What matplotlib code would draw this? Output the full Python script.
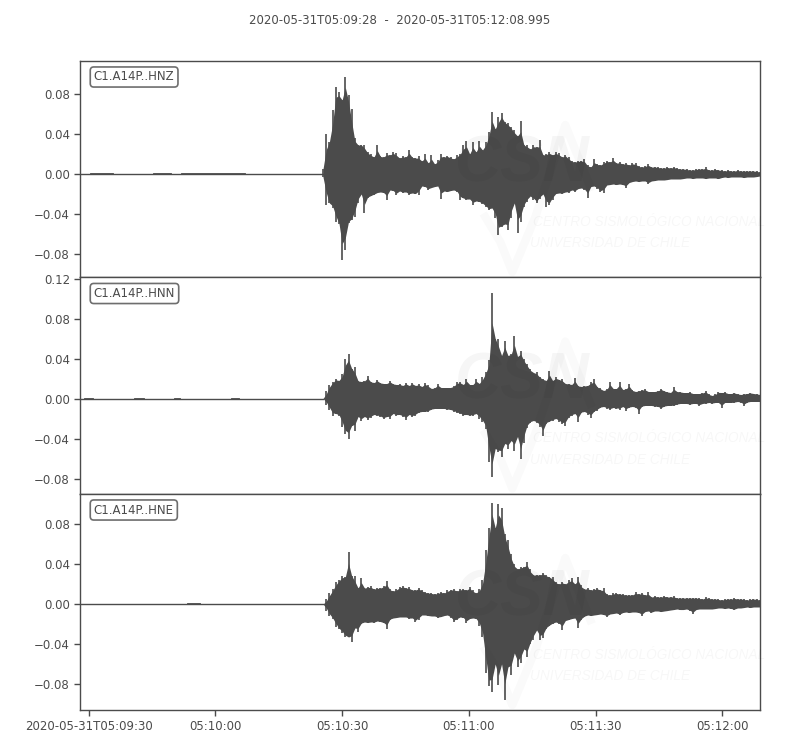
import numpy as np
import matplotlib
matplotlib.use('Agg')
import matplotlib.pyplot as plt

# peak amplitudes, in 0.001 units, one pair every STEP seconds from ONSET
ONSET = 57.46
STEP = 0.755
END = 160.995

z_up = [5, 40, 32, 64, 87, 82, 74, 97, 79, 65,
        36, 29, 29, 29, 22, 20, 17, 29, 18, 17,
        21, 19, 22, 21, 16, 18, 17, 24, 17, 16,
        18, 13, 20, 11, 19, 10, 14, 20, 17, 18,
        17, 15, 19, 20, 29, 33, 20, 32, 22, 33,
        24, 32, 42, 62, 45, 57, 61, 52, 51, 47,
        44, 38, 53, 29, 29, 25, 29, 27, 34, 19,
        20, 22, 19, 22, 21, 17, 19, 17, 13, 12,
        13, 13, 15, 9, 7, 15, 10, 9, 12, 13,
        12, 16, 11, 12, 10, 11, 9, 11, 11, 8,
        7, 8, 10, 7, 7, 7, 6, 6, 7, 6,
        7, 6, 5, 5, 5, 4, 4, 5, 5, 5,
        7, 4, 4, 5, 4, 4, 3, 4, 3, 3,
        4, 3, 3, 3, 3, 3, 3, 2]
z_lo = [-3, -31, -29, -34, -48, -50, -86, -76, -49, -46,
        -43, -29, -20, -39, -24, -22, -21, -19, -18, -19,
        -26, -16, -17, -21, -17, -19, -18, -21, -19, -20,
        -21, -12, -13, -16, -14, -13, -12, -25, -17, -18,
        -17, -16, -18, -26, -24, -26, -25, -31, -27, -28,
        -30, -33, -36, -34, -44, -61, -53, -50, -56, -44,
        -29, -59, -48, -33, -28, -22, -26, -29, -25, -20,
        -33, -31, -26, -20, -19, -20, -18, -19, -16, -18,
        -15, -14, -16, -24, -13, -12, -15, -18, -19, -11,
        -11, -10, -11, -10, -11, -14, -9, -8, -7, -8,
        -7, -7, -10, -7, -7, -6, -6, -6, -6, -5,
        -5, -5, -5, -5, -4, -4, -5, -4, -4, -4,
        -5, -4, -4, -4, -5, -4, -3, -4, -3, -3,
        -3, -3, -4, -3, -3, -3, -3, -2]

n_up = [0, 8, 14, 17, 20, 18, 25, 40, 45, 30,
        32, 18, 17, 18, 23, 17, 16, 19, 16, 15,
        15, 18, 15, 14, 15, 13, 16, 13, 16, 13,
        15, 12, 16, 14, 10, 11, 15, 11, 11, 11,
        11, 13, 17, 17, 14, 20, 14, 14, 20, 15,
        22, 27, 39, 106, 60, 60, 43, 58, 43, 45,
        63, 42, 48, 40, 35, 30, 26, 27, 22, 20,
        18, 28, 18, 22, 19, 20, 15, 15, 14, 21,
        13, 12, 13, 13, 17, 20, 12, 11, 8, 10,
        17, 10, 10, 17, 9, 10, 15, 9, 7, 8,
        9, 10, 7, 7, 7, 8, 10, 8, 7, 6,
        12, 7, 7, 6, 6, 7, 5, 5, 5, 6,
        8, 5, 3, 5, 7, 6, 7, 5, 5, 6,
        5, 4, 5, 5, 6, 5, 5, 4]
n_lo = [0, -6, -11, -17, -15, -17, -28, -35, -40, -27,
        -32, -18, -22, -18, -21, -19, -16, -17, -18, -20,
        -18, -20, -15, -17, -16, -18, -21, -16, -18, -17,
        -14, -13, -13, -13, -11, -10, -10, -10, -10, -11,
        -11, -13, -14, -15, -17, -16, -17, -17, -15, -20,
        -23, -30, -63, -78, -50, -53, -58, -45, -50, -42,
        -52, -38, -60, -44, -29, -24, -22, -24, -28, -37,
        -25, -23, -22, -20, -23, -25, -27, -19, -17, -15,
        -23, -14, -13, -16, -19, -13, -12, -9, -8, -10,
        -11, -9, -10, -11, -8, -12, -9, -8, -9, -15,
        -8, -7, -7, -7, -8, -8, -10, -8, -7, -7,
        -7, -6, -5, -5, -5, -6, -5, -5, -7, -5,
        -5, -4, -5, -4, -4, -9, -4, -4, -4, -4,
        -3, -4, -7, -4, -3, -3, -3, -3]

e_up = [0, 5, 11, 15, 22, 24, 28, 27, 52, 28,
        28, 16, 26, 16, 17, 18, 15, 16, 16, 18,
        23, 15, 13, 15, 17, 18, 16, 17, 14, 14,
        16, 14, 12, 11, 11, 10, 11, 12, 11, 14,
        14, 15, 13, 15, 15, 14, 17, 14, 11, 15,
        24, 54, 76, 101, 76, 100, 96, 70, 64, 50,
        40, 35, 37, 37, 42, 35, 29, 29, 29, 31,
        29, 27, 27, 22, 20, 22, 20, 24, 26, 20,
        27, 19, 15, 16, 14, 15, 16, 14, 16, 10,
        9, 11, 11, 10, 10, 9, 9, 9, 12, 10,
        11, 9, 12, 7, 8, 7, 7, 8, 7, 7,
        8, 6, 6, 6, 6, 6, 6, 6, 6, 5,
        7, 6, 5, 5, 5, 4, 5, 5, 5, 6,
        5, 5, 5, 4, 5, 5, 5, 4]
e_lo = [0, -7, -12, -15, -23, -25, -29, -33, -33, -38,
        -24, -28, -20, -18, -19, -18, -19, -17, -18, -19,
        -25, -16, -14, -14, -13, -13, -13, -15, -14, -18,
        -16, -11, -11, -12, -12, -12, -14, -13, -12, -11,
        -14, -18, -16, -13, -14, -19, -15, -14, -15, -22,
        -33, -69, -82, -88, -60, -81, -60, -96, -63, -71,
        -49, -63, -59, -45, -53, -40, -36, -26, -36, -34,
        -25, -22, -20, -18, -20, -26, -17, -16, -15, -14,
        -24, -16, -13, -11, -12, -11, -11, -10, -11, -13,
        -10, -10, -9, -11, -9, -8, -9, -8, -8, -9,
        -12, -8, -7, -9, -7, -7, -8, -7, -7, -6,
        -6, -5, -6, -6, -5, -7, -10, -6, -5, -5,
        -5, -5, -5, -5, -4, -4, -5, -4, -5, -6,
        -4, -4, -4, -3, -4, -3, -3, -3]

stations = ['C1.A14P..HNZ', 'C1.A14P..HNN', 'C1.A14P..HNE']
uppers = [z_up, n_up, e_up]
lowers = [z_lo, n_lo, e_lo]
ylims = [(-0.103, 0.1135), (-0.095, 0.1215), (-0.106, 0.1105)]
yticks = [[-0.08, -0.04, 0.0, 0.04, 0.08],
          [-0.08, -0.04, 0.0, 0.04, 0.08, 0.12],
          [-0.08, -0.04, 0.0, 0.04, 0.08]]
# small wiggles in the quiet part before the onset, (start, end) seconds
quiet_wiggles = [[(2.5, 7.7), (17.5, 21.5), (24, 39)],
                 [(1, 3), (13, 15), (22.5, 23.5), (36, 37.5)],
                 [(25.5, 28.3)]]
xtick_pos = [2, 32, 62, 92, 122, 152]
xtick_labels = ['2020-05-31T05:09:30', '05:10:00', '05:10:30', '05:11:00', '05:11:30', '05:12:00']
title = '2020-05-31T05:09:28  -  2020-05-31T05:12:08.995'

dark = '#4b4b4b'
plt.rcParams['font.family'] = 'DejaVu Sans'
plt.rcParams['font.size'] = 8.5

fig = plt.figure(figsize=(8, 7.5), dpi=100)
fig.text(0.5, 1 - 20.5 / 750, title, ha='center', va='center', color=dark)

left, width = 80.3 / 800, 680 / 800
tops = [60.5, 277, 493.5]
height = 216.5

for i in range(3):
    ax = fig.add_axes([left, 1 - (tops[i] + height) / 750, width, height / 750])
    up = np.array(uppers[i]) / 1000
    lo = np.array(lowers[i]) / 1000
    t = ONSET + STEP * np.arange(len(up))

    # solid body of the trace follows the peaks loosely, the peaks themselves are thin sticks
    core_up = np.array([up[max(j - 1, 0):j + 2].min() for j in range(len(up))])
    core_lo = np.array([lo[max(j - 1, 0):j + 2].max() for j in range(len(lo))])
    core_up = 0.45 * core_up + 0.55 * up
    core_lo = 0.45 * core_lo + 0.55 * lo

    ax.plot([0, ONSET], [0, 0], color=dark, lw=1.0)
    for a, b in quiet_wiggles[i]:
        ax.plot([a, b], [0, 0], color=dark, lw=1.3)
    ax.fill_between(t, core_lo, core_up, color=dark, lw=0)
    ax.vlines(t, lo, up, color=dark, lw=1.2)
    ax.plot([t[-1], END], [0, 0], color=dark, lw=3)

    ax.set_xlim(0, END)
    ax.set_ylim(ylims[i])
    ax.set_yticks(yticks[i])
    ax.set_yticklabels([f'{v:.2f}'.replace('-', '\u2212') for v in yticks[i]])
    ax.set_xticks(xtick_pos)
    if i == 2:
        ax.set_xticklabels(xtick_labels)
    else:
        ax.tick_params(axis='x', bottom=False, labelbottom=False)
    ax.tick_params(colors=dark, length=4, width=1)
    for s in ax.spines.values():
        s.set_color(dark)
        s.set_linewidth(1)

    ax.text(13.5 / 680, 1 - 16.5 / 216.5, stations[i], transform=ax.transAxes, ha='left', va='center',
            color=dark, bbox=dict(boxstyle='round,pad=0.3', fc='white', ec='#6e6e6e', lw=1.2))

    # faint network logo sitting over the trace
    ax.text(375 / 680, 112 / 216.5, 'CSN', transform=ax.transAxes, fontsize=46, style='italic',
            weight='bold', family='Liberation Sans', color='black', alpha=0.035, ha='left', va='center', zorder=5)
    ax.text(453 / 680, 55 / 216.5, 'CENTRO SISMOLÓGICO NACIONAL', transform=ax.transAxes, fontsize=9.8,
            style='italic', family='Liberation Sans', color='black', alpha=0.03, ha='left', va='center', zorder=5)
    ax.text(450 / 680, 34 / 216.5, 'UNIVERSIDAD DE CHILE', transform=ax.transAxes, fontsize=9.8,
            style='italic', family='Liberation Sans', color='black', alpha=0.03, ha='left', va='center', zorder=5)
    ax.plot([405 / 680, 420 / 680, 432 / 680, 455 / 680, 485 / 680, 510 / 680],
            [60 / 216.5, 35 / 216.5, 5 / 216.5, 60 / 216.5, 152 / 216.5, 90 / 216.5],
            transform=ax.transAxes, color='black', alpha=0.018, lw=6, zorder=5)

fig.savefig('out.png', dpi=100)
